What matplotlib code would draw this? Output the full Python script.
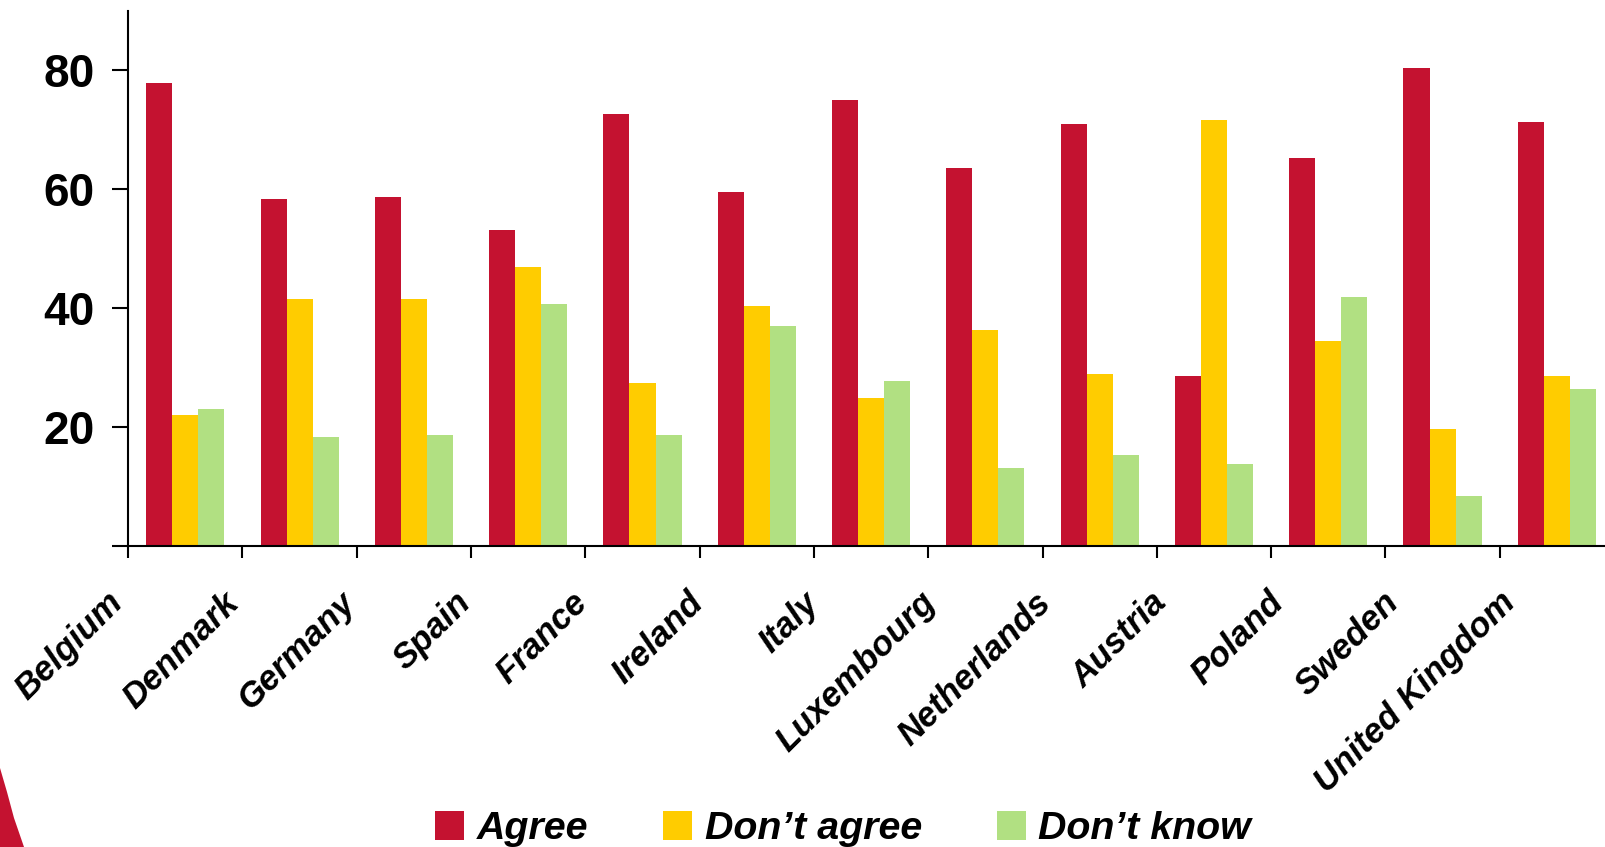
import matplotlib

matplotlib.use("Agg")
import matplotlib.pyplot as plt
import numpy as np
from matplotlib.patches import Patch, Polygon

# Data
countries = [
    "Belgium",
    "Denmark",
    "Germany",
    "Spain",
    "France",
    "Ireland",
    "Italy",
    "Luxembourg",
    "Netherlands",
    "Austria",
    "Poland",
    "Sweden",
    "United Kingdom",
]
agree = [77.8, 58.3, 58.6, 53.1, 72.6, 59.5, 74.9, 63.5, 70.9, 28.6, 65.3, 80.3, 71.2]
dont_agree = [22.0, 41.5, 41.5, 46.9, 27.4, 40.3, 24.9, 36.3, 28.9, 71.6, 34.4, 19.7, 28.6]
dont_know = [23.0, 18.3, 18.7, 40.7, 18.7, 37.0, 27.7, 13.1, 15.3, 13.8, 41.8, 8.4, 26.4]

series_names = ["Agree", "Don\u2019t agree", "Don\u2019t know"]
series_colours = ["#C41230", "#FFCC00", "#B1E082"]
y_ticks = [0, 20, 40, 60, 80]
y_tick_labels = ["", "20", "40", "60", "80"]

plt.rcParams["font.family"] = ["Liberation Sans", "DejaVu Sans"]

fig = plt.figure(figsize=(16.06, 8.47), dpi=100)
ax = fig.add_axes([0.0798, 0.3554, 0.9202, 0.632])

x = np.arange(len(countries))
width = 0.228

for k, (values, name, colour) in enumerate(
    zip([agree, dont_agree, dont_know], series_names, series_colours)
):
    ax.bar(x + (k - 1) * width, values, width, color=colour, label=name, zorder=2)

ax.set_xlim(-0.5, 12.43)
ax.set_ylim(0, 90)

# Ticks sit on the group boundaries
ax.set_xticks(x - 0.5)
ax.set_xticklabels([])
ax.tick_params(axis="x", direction="out", length=8.6, width=1.5, color="black")

ax.set_yticks(y_ticks)
ax.set_yticklabels(y_tick_labels, fontsize=33, fontweight="bold")
ax.tick_params(axis="y", direction="out", length=11.3, width=1.5, pad=13, color="black")

for side in ["top", "right"]:
    ax.spines[side].set_visible(False)
for side in ["left", "bottom"]:
    ax.spines[side].set_linewidth(1.5)
    ax.spines[side].set_color("black")

# Rotated category labels, ending just left of each boundary tick
for i, name in enumerate(countries):
    ax.text(
        i - 0.69 + 0.015 * i,
        -0.075,
        name,
        transform=ax.get_xaxis_transform(),
        rotation=45,
        rotation_mode="anchor",
        ha="right",
        va="top",
        fontsize=25,
        fontweight="bold",
        fontstyle="italic",
    )

handles = [Patch(facecolor=c, edgecolor="none") for c in series_colours]
fig.legend(
    handles,
    series_names,
    loc="center",
    bbox_to_anchor=(0.525, 0.021),
    ncol=3,
    frameon=False,
    prop={"size": 28.4, "weight": "bold", "style": "italic"},
    handlelength=0.73,
    handleheight=0.76,
    handletextpad=0.32,
    columnspacing=1.9,
)

# Red corner decoration from the slide template
corner = np.array([[0, 768], [7, 792], [14, 818], [24, 847], [0, 847]], dtype=float)
corner[:, 0] /= 1606
corner[:, 1] = 1 - corner[:, 1] / 847
fig.patches.append(
    Polygon(corner, closed=True, transform=fig.transFigure, facecolor="#C41230", edgecolor="none")
)

fig.savefig("out.png", dpi=100)
